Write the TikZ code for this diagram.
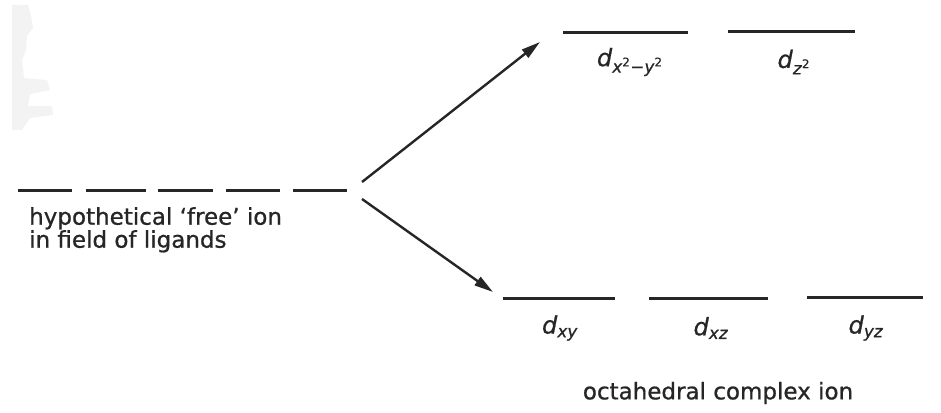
\documentclass[tikz,border=0pt]{standalone}
\usepackage{fontspec}
\setmainfont{DejaVu Sans}
\newfontfamily\boldish[FakeBold=0.8]{DejaVu Sans}
\usetikzlibrary{arrows.meta}
\definecolor{scan}{HTML}{F3F3F3}
\definecolor{ink}{HTML}{262626}
\begin{document}
\begin{tikzpicture}[x=1pt,y=-1pt,
  level/.style={line width=3pt,ink},
  arr/.style={line width=2.4pt,ink,-{Triangle[length=19pt,width=10pt]}},
  lbl/.style={font=\boldish\fontsize{23}{23}\selectfont,align=left,inner sep=0,text=ink},
  orb/.style={font=\boldish\fontsize{24}{28}\selectfont,inner sep=0,text=ink}]
\useasboundingbox (0,0) rectangle (941,412);
% faint scan artefact
\fill[scan] (12,5) -- (28,5) -- (31,16) -- (33,28) -- (27,36) -- (26,50) -- (22,60) -- (24,78)
  -- (47,80) -- (50,90) -- (30,94) -- (28,106) -- (52,106) -- (53,115) -- (30,118) -- (22,130) -- (12,130) -- cycle;
% free ion levels (degenerate)
\foreach \a/\b in {18/72,86/146,158/213,226/280,293/347}
  \draw[level] (\a,190) -- (\b,190);
\node[lbl,anchor=north west] (free) at (29,207) {hypothetical ‘free’ ion\\in field of ligands};
% arrows
\coordinate (s1) at (362,182);
\coordinate (e1) at (540,42);
\coordinate (s2) at (362,199);
\coordinate (e2) at (493,292);
\draw[arr] (s1) -- (e1);
\draw[arr] (s2) -- (e2);
% eg levels
\draw[level] (563,33) -- (688,33);
\draw[level] (728,32) -- (855,32);
\node[orb] (dx2y2) at (630,62) {\textit{d}\textsubscript{\textit{x}\textsuperscript{2}−\textit{y}\textsuperscript{2}}};
\node[orb] (dz2) at (794,62) {\textit{d}\textsubscript{\textit{z}\textsuperscript{2}}};
% t2g levels
\draw[level] (503,298) -- (615,298);
\draw[level] (649,298) -- (768,298);
\draw[level] (807,297) -- (923,297);
\node[orb] (dxy) at (560,328) {\textit{d}\textsubscript{\textit{xy}}};
\node[orb] (dxz) at (711,328) {\textit{d}\textsubscript{\textit{xz}}};
\node[orb] (dyz) at (866,328) {\textit{d}\textsubscript{\textit{yz}}};
\node[lbl] (oct) at (718,393) {octahedral complex ion};
\end{tikzpicture}
\end{document}
